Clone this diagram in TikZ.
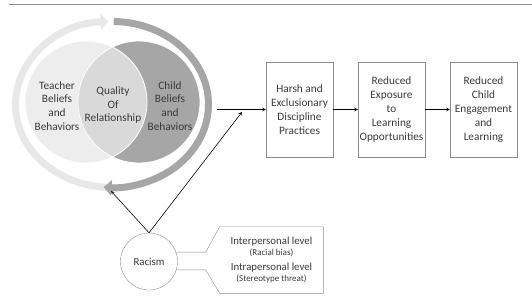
\documentclass[tikz,border=0pt]{standalone}
\usepackage{fontspec}
\setmainfont{Carlito}
\usepackage{tikz}
\usetikzlibrary{positioning, arrows, arrows.meta, calc}
\definecolor{lightfill}{HTML}{EDEDED}
\definecolor{midfill}{HTML}{D9D9D9}
\definecolor{darkfill}{HTML}{A6A6A6}
\definecolor{lightring}{HTML}{E8E8E8}
\definecolor{textgray}{HTML}{3A3A3A}
\definecolor{linegray}{HTML}{8C8C8C}

\begin{document}
\begin{tikzpicture}[x=1pt, y=1pt, ->, >=stealth, semithick, node distance=92pt,
    outcome/.style={draw=linegray, thin, minimum width=67pt, minimum height=95pt, inner sep=1pt,
      align=center, text=textgray, font=\fontsize{11.3}{13.8}\selectfont},
    circtext/.style={align=center, text=textgray, font=\fontsize{11.3}{13.8}\selectfont},
    ringarc/.style={line width=7pt, -{Triangle[length=8pt, width=15pt]}}]
      \useasboundingbox (0,0) rectangle (532,306);
      \draw[-, linegray, thin] (9,302) -- (532,302);

      % Relationship circles
      \coordinate (ringc) at (112,201.5);
      \coordinate (tc) at (86,204);
      \coordinate (cc) at (139,204);
      \fill[lightfill] (tc) circle (61);
      \fill[darkfill] (cc) circle (61);
      \begin{scope}
        \clip (tc) circle (61);
        \fill[midfill] (cc) circle (61);
      \end{scope}
      \draw[-, white, thick] (tc) circle (61) (cc) circle (61);

      % Cycle around the circles
      \draw[ringarc, lightring] ($(ringc)+(268:96.5 and 83)$)
            arc[start angle=268, end angle=92, x radius=96.5, y radius=83];
      \draw[ringarc, darkfill] ($(ringc)+(89:96.5 and 83)$)
            arc[start angle=89, end angle=-95, x radius=96.5, y radius=83];

      \node[circtext] (teacher) at (57,200) {Teacher\\Beliefs\\and\\Behaviors};
      \node[circtext] (quality) at (113,201) {Quality\\Of\\Relationship};
      \node[circtext] (child) at (170,200) {Child\\Beliefs\\and\\Behaviors};

      % Outcomes
      \node[outcome] (harsh) at (299.5,196.5) {Harsh and\\Exclusionary\\Discipline\\Practices};
      \node[outcome] (exposure) [right of=harsh] {Reduced\\Exposure\\to\\Learning\\Opportunities};
      \node[outcome] (engagement) [right of=exposure] {Reduced\\Child\\Engagement\\and\\Learning};

      \coordinate (ringout) at (217,196.5);
      \coordinate (ringin) at (111,115);
      \coordinate (joinpt) at (242,194);

      % Racism
      \node[draw=linegray, thin, circle, minimum size=57pt, text=textgray,
            font=\fontsize{10.8}{13}\selectfont] (racism) at (149,44.5) {Racism};
      \node[align=center, text=textgray, minimum width=103pt, minimum height=66pt] (levels) at (271.5,46)
            {{\fontsize{10.8}{12.5}\selectfont Interpersonal level}\\[-1pt]
             {\fontsize{9}{10.5}\selectfont (Racial bias)}\\[2.5pt]
             {\fontsize{10.8}{12.5}\selectfont Intrapersonal level}\\[-1pt]
             {\fontsize{9}{10.5}\selectfont (Stereotype threat)}};
      \draw[-, linegray, thin] (racism.19.5) -- ($(levels.west |- racism.19.5)+(-14,0)$)
            -- (levels.north west) -- (levels.north east) -- (levels.south east)
            -- (levels.south west) -- ($(levels.west |- racism.-17.4)+(-14,0)$) -- (racism.-17.4);

      \path (ringout) edge (harsh)
            (harsh) edge (exposure)
            (exposure) edge (engagement)
            (racism.north) edge (ringin)
            (racism.north) edge (joinpt)
            ;
\end{tikzpicture}
\end{document}
